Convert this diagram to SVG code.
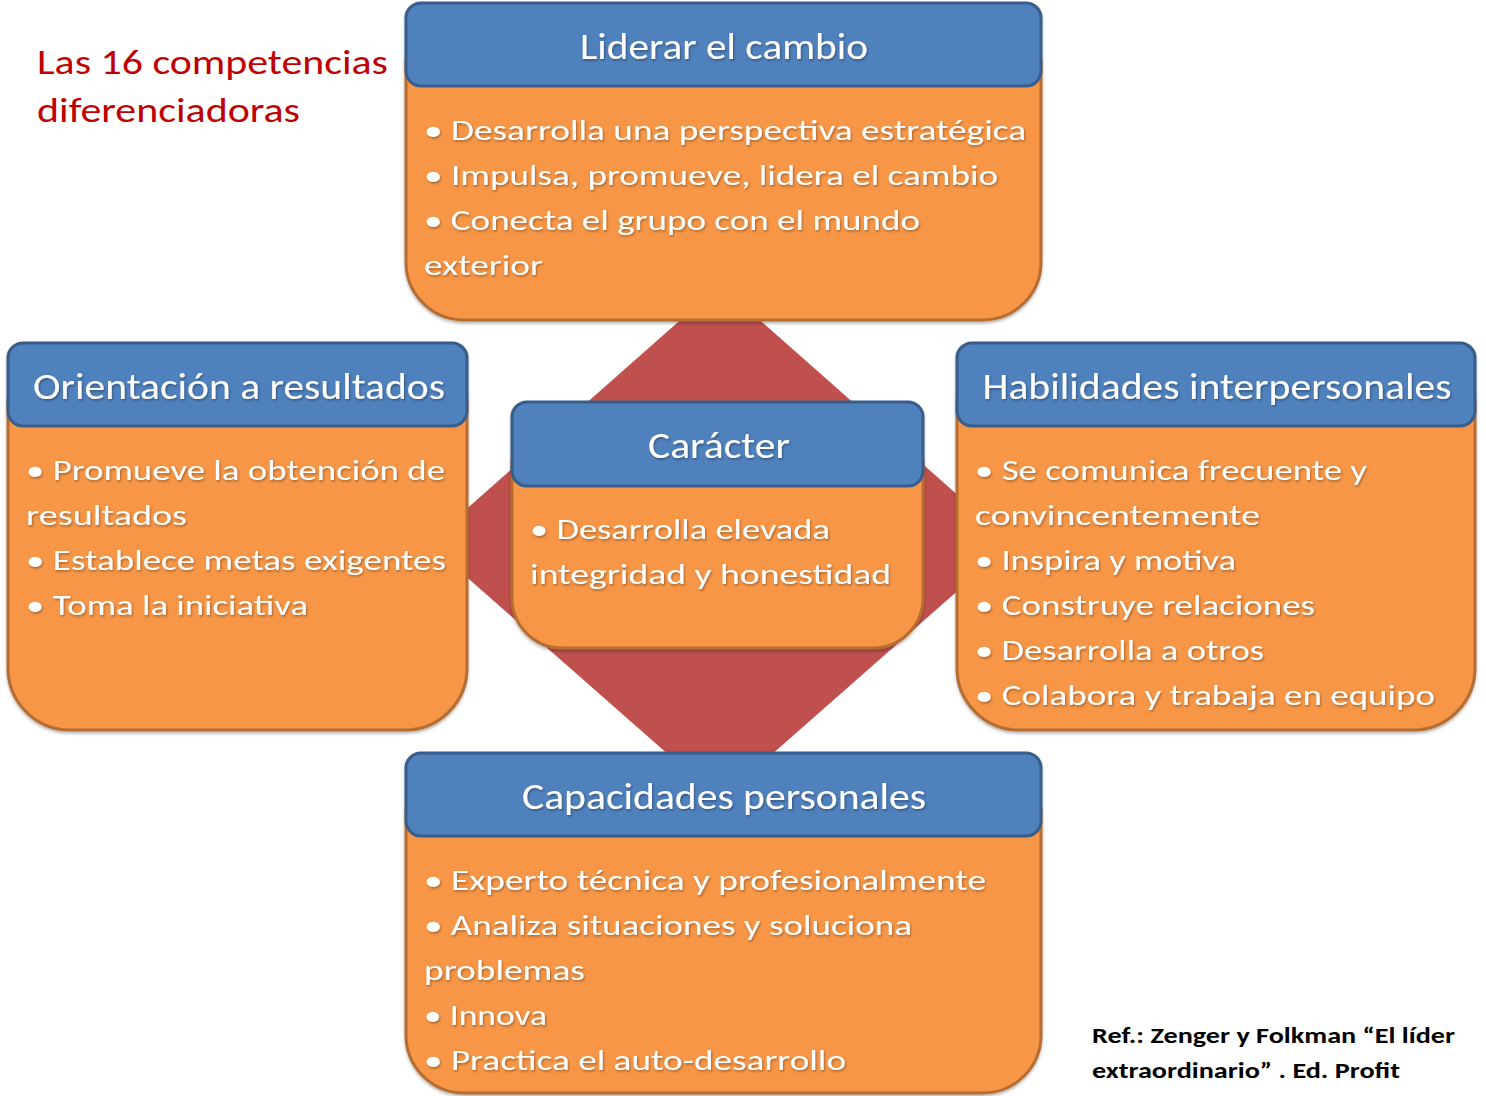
<svg xmlns="http://www.w3.org/2000/svg" width="1486" height="1096" viewBox="0 0 1486 1096">
<defs>
<filter id="ts" x="-5%" y="-20%" width="110%" height="140%">
<feDropShadow dx="1" dy="1.5" stdDeviation="0.8" flood-color="#000" flood-opacity="0.35"/>
</filter>
<filter id="sh" x="-5%" y="-5%" width="110%" height="115%">
<feDropShadow dx="0" dy="2" stdDeviation="1.5" flood-color="#000" flood-opacity="0.3"/>
</filter>
</defs>
<style>
.hd{fill:#4F81BD;stroke:#385D8A;stroke-width:3}
.bd{fill:#F79646;stroke:#B66D31;stroke-width:3}
.ht{font-family:Carlito,Lato,"Liberation Sans",sans-serif;font-size:36px;fill:#fff;text-anchor:middle}
.bt{font-family:Carlito,Lato,"Liberation Sans",sans-serif;font-size:29px;fill:#fff}
.title{font-family:Carlito,Lato,"Liberation Sans",sans-serif;font-size:34px;fill:#C00000}
.ref{font-family:Carlito,Lato,"Liberation Sans",sans-serif;font-size:22px;font-weight:bold;fill:#000}
</style>
<rect width="1486" height="1096" fill="#fff"/>
<polygon id="diamond" points="720,285 1012,543 720,800 428,543" fill="#C0504D"/>
<g id="connectors"></g>
<g id="title">
<text class="title" x="37" y="74" textLength="351" lengthAdjust="spacingAndGlyphs">Las 16 competencias</text>
<text class="title" x="37" y="122" textLength="263" lengthAdjust="spacingAndGlyphs">diferenciadoras</text>
</g>
<g id="liderar" filter="url(#sh)">
<path class="bd" d="M406,60 H1041 V262 A58,58 0 0 1 983,320 H464 A58,58 0 0 1 406,262 Z"/>
<rect class="hd" x="406" y="3" width="635" height="83" rx="15"/>
<g filter="url(#ts)">
<text class="ht" x="724" y="59" textLength="288" lengthAdjust="spacingAndGlyphs">Liderar el cambio</text>
<text class="bt" x="424" y="140" textLength="602" lengthAdjust="spacingAndGlyphs">• Desarrolla una perspectiva estratégica</text>
<text class="bt" x="424" y="185" textLength="574" lengthAdjust="spacingAndGlyphs">• Impulsa, promueve, lidera el cambio</text>
<text class="bt" x="424" y="230" textLength="496" lengthAdjust="spacingAndGlyphs">• Conecta el grupo con el mundo</text>
<text class="bt" x="424" y="275" textLength="119" lengthAdjust="spacingAndGlyphs">exterior</text>
</g>
</g>
<g id="orientacion" filter="url(#sh)">
<path class="bd" d="M8,400 H467 V668 A62,62 0 0 1 405,730 H70 A62,62 0 0 1 8,668 Z"/>
<rect class="hd" x="8" y="343" width="459" height="83" rx="15"/>
<g filter="url(#ts)">
<text class="ht" x="239" y="399" textLength="412" lengthAdjust="spacingAndGlyphs">Orientación a resultados</text>
<text class="bt" x="26" y="480" textLength="419" lengthAdjust="spacingAndGlyphs">• Promueve la obtención de</text>
<text class="bt" x="26" y="525" textLength="161" lengthAdjust="spacingAndGlyphs">resultados</text>
<text class="bt" x="26" y="570" textLength="420" lengthAdjust="spacingAndGlyphs">• Establece metas exigentes</text>
<text class="bt" x="26" y="615" textLength="282" lengthAdjust="spacingAndGlyphs">• Toma la iniciativa</text>
</g>
</g>
<g id="habilidades" filter="url(#sh)">
<path class="bd" d="M957,400 H1475 V668 A62,62 0 0 1 1413,730 H1019 A62,62 0 0 1 957,668 Z"/>
<rect class="hd" x="957" y="343" width="518" height="83" rx="15"/>
<g filter="url(#ts)">
<text class="ht" x="1217" y="399" textLength="469" lengthAdjust="spacingAndGlyphs">Habilidades interpersonales</text>
<text class="bt" x="975" y="480" textLength="392" lengthAdjust="spacingAndGlyphs">• Se comunica frecuente y</text>
<text class="bt" x="975" y="525" textLength="285" lengthAdjust="spacingAndGlyphs">convincentemente</text>
<text class="bt" x="975" y="570" textLength="261" lengthAdjust="spacingAndGlyphs">• Inspira y motiva</text>
<text class="bt" x="975" y="615" textLength="340" lengthAdjust="spacingAndGlyphs">• Construye relaciones</text>
<text class="bt" x="975" y="660" textLength="289" lengthAdjust="spacingAndGlyphs">• Desarrolla a otros</text>
<text class="bt" x="975" y="705" textLength="460" lengthAdjust="spacingAndGlyphs">• Colabora y trabaja en equipo</text>
</g>
</g>
<g id="capacidades" filter="url(#sh)">
<path class="bd" d="M406,810 H1041 V1035 A58,58 0 0 1 983,1093 H464 A58,58 0 0 1 406,1035 Z"/>
<rect class="hd" x="406" y="753" width="635" height="83" rx="15"/>
<g filter="url(#ts)">
<text class="ht" x="724" y="809" textLength="404" lengthAdjust="spacingAndGlyphs">Capacidades personales</text>
<text class="bt" x="424" y="890" textLength="562" lengthAdjust="spacingAndGlyphs">• Experto técnica y profesionalmente</text>
<text class="bt" x="424" y="935" textLength="488" lengthAdjust="spacingAndGlyphs">• Analiza situaciones y soluciona</text>
<text class="bt" x="424" y="980" textLength="161" lengthAdjust="spacingAndGlyphs">problemas</text>
<text class="bt" x="424" y="1025" textLength="123" lengthAdjust="spacingAndGlyphs">• Innova</text>
<text class="bt" x="424" y="1070" textLength="422" lengthAdjust="spacingAndGlyphs">• Practica el auto-desarrollo</text>
</g>
</g>
<g id="caracter" filter="url(#sh)">
<path class="bd" d="M512,460 H923 V598 A50,50 0 0 1 873,648 H562 A50,50 0 0 1 512,598 Z"/>
<rect class="hd" x="512" y="402" width="411" height="84" rx="15"/>
<g filter="url(#ts)">
<text class="ht" x="719" y="458" textLength="142" lengthAdjust="spacingAndGlyphs">Carácter</text>
<text class="bt" x="530" y="539" textLength="300" lengthAdjust="spacingAndGlyphs">• Desarrolla elevada</text>
<text class="bt" x="530" y="584" textLength="361" lengthAdjust="spacingAndGlyphs">integridad y honestidad</text>
</g>
</g>
<g id="ref">
<text class="ref" x="1092" y="1043" textLength="363" lengthAdjust="spacingAndGlyphs">Ref.: Zenger y Folkman “El líder</text>
<text class="ref" x="1092" y="1078" textLength="308" lengthAdjust="spacingAndGlyphs">extraordinario” . Ed. Profit</text>
</g>
</svg>
